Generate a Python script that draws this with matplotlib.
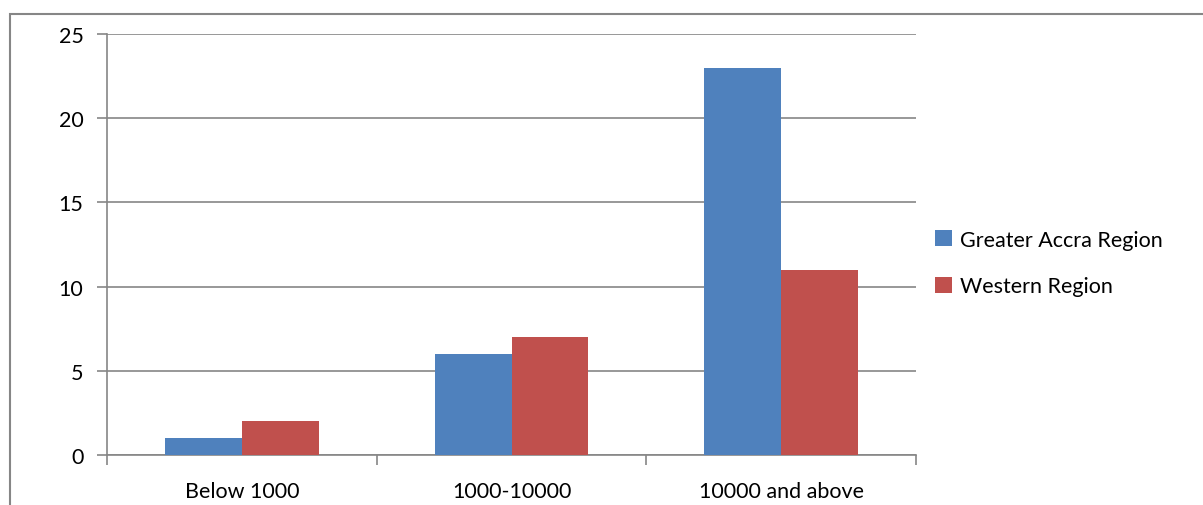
import matplotlib
matplotlib.use("Agg")
import matplotlib.pyplot as plt
from matplotlib.patches import Rectangle
import numpy as np

categories = ["Below 1000", "1000-10000", "10000 and above"]
greater_accra = [1, 6, 23]
western = [2, 7, 11]
series_names = ["Greater Accra Region", "Western Region"]
colors = ["#4F81BD", "#C0504D"]

plt.rcParams["font.family"] = ["Lato", "DejaVu Sans"]
grey = "#868686"
fs = 15.5

fig = plt.figure(figsize=(12.03, 5.06), dpi=100)
ax = fig.add_axes([107 / 1203, 50 / 506, (916 - 107) / 1203, (456 - 35) / 506])

# outer chart frame (runs off the right and bottom edges)
fig.patches.append(Rectangle((10 / 1203, -0.05), 1.2, (506 - 15) / 506 + 0.05,
                             transform=fig.transFigure, fill=False,
                             edgecolor=grey, linewidth=1.5))

x = np.arange(len(categories)) + 0.5
w = 0.285
ax.bar(x - w / 2, greater_accra, w, color=colors[0], label=series_names[0], zorder=3)
ax.bar(x + w / 2, western, w, color=colors[1], label=series_names[1], zorder=3)

ax.set_xlim(0, 3)
ax.set_ylim(0, 25)
ax.set_yticks(range(0, 26, 5))
ax.yaxis.grid(True, color=grey, linewidth=1.2, zorder=0)
ax.set_xticks([0, 1, 2, 3])
ax.set_xticklabels([])
ax.set_xticks(x, minor=True)
ax.set_xticklabels(categories, minor=True)
ax.tick_params(axis="x", which="major", length=7, color=grey, width=1.2)
ax.tick_params(axis="x", which="minor", length=0, pad=19, labelsize=fs)
ax.tick_params(axis="y", length=7, color=grey, width=1.2, labelsize=fs, pad=10)
for s in ["top", "right"]:
    ax.spines[s].set_visible(False)
for s in ["left", "bottom"]:
    ax.spines[s].set_color(grey)
    ax.spines[s].set_linewidth(1.2)

ax.legend(loc="center left", bbox_to_anchor=(1.0, 0.456), frameon=False,
          fontsize=fs, handlelength=0.75, handleheight=0.75,
          handletextpad=0.4, labelspacing=1.25, borderaxespad=0.5)

fig.savefig("out.png", dpi=100)
